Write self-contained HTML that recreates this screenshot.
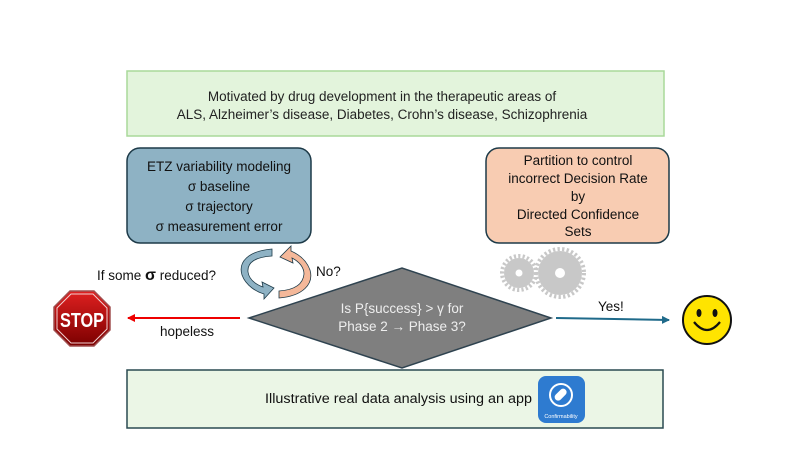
<!DOCTYPE html>
<html><head><meta charset="utf-8"><style>
html,body{margin:0;padding:0;background:#fff;}
svg{display:block;font-family:"Liberation Sans",sans-serif;}
</style></head><body>
<svg width="797" height="449" viewBox="0 0 797 449" xmlns="http://www.w3.org/2000/svg">
<defs>
<marker id="ar" markerWidth="8" markerHeight="8" refX="7" refY="4" orient="auto" markerUnits="userSpaceOnUse"><path d="M0,0 L8,4 L0,8 z" fill="#e00"/></marker>
<marker id="ab" markerWidth="8" markerHeight="8" refX="7" refY="4" orient="auto" markerUnits="userSpaceOnUse"><path d="M0,0 L8,4 L0,8 z" fill="#1f6a8a"/></marker>
<linearGradient id="sg" x1="0" y1="0" x2="0" y2="1"><stop offset="0" stop-color="#e02020"/><stop offset="1" stop-color="#7a0000"/></linearGradient>
</defs>
<rect x="127" y="71" width="537" height="65" fill="#e3f4dc" stroke="#a9d99a" stroke-width="1.5"/>
<text x="382" y="101" font-size="13.5" text-anchor="middle" fill="#222">Motivated by drug development in the therapeutic areas of</text>
<text x="382" y="119" font-size="13.5" text-anchor="middle" fill="#222">ALS, Alzheimer’s disease, Diabetes, Crohn’s disease, Schizophrenia</text>

<rect x="127" y="148" width="184" height="95" rx="13" fill="#8eb2c4" stroke="#1d3a48" stroke-width="1.5"/>
<g font-size="13.5" text-anchor="middle" fill="#111">
<text x="219" y="171">ETZ variability modeling</text>
<text x="219" y="191">σ baseline</text>
<text x="219" y="211">σ  trajectory</text>
<text x="219" y="231">σ measurement error</text>
</g>
<rect x="486" y="148" width="183" height="95" rx="13" fill="#f8ccb2" stroke="#1d3a48" stroke-width="1.5"/>
<g font-size="13.5" text-anchor="middle" fill="#111">
<text x="578" y="165">Partition to control</text>
<text x="578" y="183">incorrect Decision Rate</text>
<text x="578" y="201">by</text>
<text x="578" y="219">Directed Confidence</text>
<text x="578" y="236">Sets</text>
</g>

<!-- cycle arrows -->
<path d="M272,249 C248,251 238,262 242,275 C246,286 257,292 264,294 L264,299 L274,288 L262,282 L263,287 C255,284 249,279 248,272 C247,262 256,257 272,256 Z" fill="#8eb2c4" stroke="#1d3a48" stroke-width="0.8"/>
<path d="M279,298 C303,296 314,284 310,270 C306,259 298,254 291,251 L291,246 L280,257 L293,263 L292,258 C300,262 304,268 304,274 C303,285 294,290 279,291 Z" fill="#f4b89a" stroke="#1d3a48" stroke-width="0.8"/>
<text x="97" y="280" font-size="13.5" fill="#111">If some <tspan font-weight="bold" font-size="16">σ</tspan> reduced?</text>
<text x="316" y="276" font-size="13.5" fill="#111">No?</text>

<!-- gears -->
<g fill="#c8c8c8">
<circle cx="519" cy="273" r="15"/>
<circle cx="519" cy="273" r="17" fill="none" stroke="#c8c8c8" stroke-width="4" stroke-dasharray="2.2 2.2"/>
<circle cx="560" cy="273" r="22"/>
<circle cx="560" cy="273" r="24" fill="none" stroke="#c8c8c8" stroke-width="4" stroke-dasharray="2.3 2.3"/>
</g>
<circle cx="519" cy="273" r="3.5" fill="#fff"/>
<circle cx="560" cy="273" r="5" fill="#fff"/>

<!-- diamond -->
<polygon points="249,318 402,268 551,318 402,368" fill="#7f7f7f" stroke="#2f4350" stroke-width="1.5"/>
<text x="402" y="313" font-size="13.5" text-anchor="middle" fill="#eee">Is P{success} &gt; γ for</text>
<text x="402" y="331" font-size="13.5" text-anchor="middle" fill="#eee">Phase 2 → Phase 3?</text>

<!-- arrows -->
<line x1="240" y1="318" x2="128" y2="318" stroke="#e00" stroke-width="2" marker-end="url(#ar)"/>
<text x="160" y="336" font-size="13.5" fill="#111">hopeless</text>
<line x1="556" y1="318" x2="669" y2="320" stroke="#1f6a8a" stroke-width="2" marker-end="url(#ab)"/>
<text x="598" y="311" font-size="13.5" fill="#111">Yes!</text>

<!-- stop -->
<polygon points="70,291 94,291 110,307 110,330 94,346 70,346 54,330 54,307" fill="url(#sg)" stroke="#a05050" stroke-width="1.5"/>
<polygon points="71,294 93,294 107,308 107,329 93,343 71,343 57,329 57,308" fill="none" stroke="#f0d0d0" stroke-width="1"/>
<text x="82" y="327" font-size="20" font-weight="bold" text-anchor="middle" fill="#fff" textLength="44" lengthAdjust="spacingAndGlyphs">STOP</text>

<!-- smiley -->
<circle cx="707" cy="320" r="24" fill="#ffe400" stroke="#111" stroke-width="2"/>
<ellipse cx="699" cy="313" rx="2.5" ry="4" fill="#111"/>
<ellipse cx="715" cy="313" rx="2.5" ry="4" fill="#111"/>
<path d="M694,322 Q707,338 720,322" fill="none" stroke="#111" stroke-width="2.2"/>

<!-- bottom -->
<rect x="127" y="370" width="536" height="58" fill="#ebf6e6" stroke="#2a4a50" stroke-width="1.5"/>
<text x="265" y="403" font-size="13.5" fill="#111" textLength="267" lengthAdjust="spacingAndGlyphs">Illustrative real data analysis using an app</text>
<rect x="538" y="376" width="47" height="47" rx="8" fill="#2e7bd0"/>
<circle cx="561" cy="395" r="11" fill="none" stroke="#fff" stroke-width="2"/>
<rect x="554" y="391" width="14" height="7" rx="3.5" fill="#fff" transform="rotate(-45 561 395)"/>
<text x="561" y="418" font-size="5.5" text-anchor="middle" fill="#fff">Confirmability</text>
</svg>
</body></html>
